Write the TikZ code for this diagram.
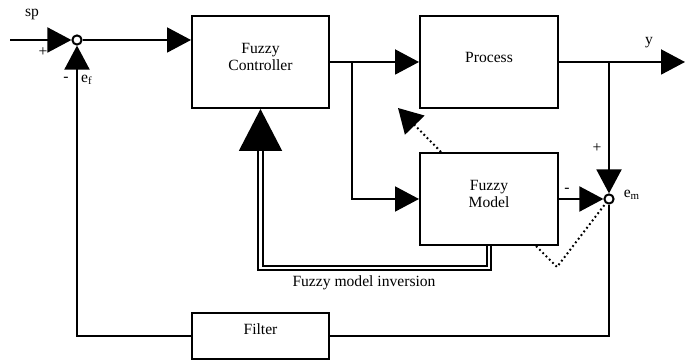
\documentclass[tikz,border=0pt]{standalone}
\usepackage{fontspec}
\setmainfont{Liberation Serif}
\usetikzlibrary{arrows.meta}
\tikzset{
 block/.style={draw,line width=1pt,align=center,font=\fontsize{7.8}{8.5}\selectfont},
 wire/.style={line width=1pt},
 sig/.style={wire,-{Triangle[length=12pt,width=12.5pt]}},
 inv/.style={line width=1pt,double,double distance=1.2pt,-{Triangle[length=21pt,width=21.5pt]}},
 adapt/.style={line width=1pt,dash pattern=on 0.9pt off 1.4pt},
 sumpt/.style={circle,draw,line width=1pt,fill=white,inner sep=0pt,minimum size=4.6pt},
 lbl/.style={font=\fontsize{7.8}{8.5}\selectfont,inner sep=0pt}
}
\begin{document}
\begin{tikzpicture}[x=0.5pt,y=-0.5pt]
\useasboundingbox (0,0) rectangle (685,362);
% blocks
\node[block,minimum width=68.5pt,minimum height=46pt,text depth=5pt] (ctrl) at (260.5,62) {Fuzzy\\Controller};
\node[block,minimum width=69pt,minimum height=46pt,text depth=4.5pt] (proc) at (489,62) {Process};
\node[block,minimum width=69pt,minimum height=46pt,text depth=5.5pt] (model) at (489,199) {Fuzzy\\Model};
\node[block,minimum width=68.5pt,minimum height=23pt,text depth=7pt] (filter) at (260.5,336) {Filter};
% summing points
\node[sumpt] (sum1) at (77,40) {};
\node[sumpt] (sum2) at (609,199) {};
\coordinate (in) at (10,40);
\coordinate (out) at (685,62);
\coordinate (br1) at (352,62);
\coordinate (br2) at (609,62);
% signals
\draw[sig] (in) -- (sum1);
\draw[sig] (sum1) -- (sum1 -| ctrl.west);
\draw[sig] (ctrl.east) -- (proc.west);
\draw[sig] (br1) |- (model.west);
\draw[sig] (proc.east) -- (out);
\draw[sig] (br2) -- (sum2);
\draw[sig] (model.east) -- (sum2);
\draw[wire] (sum2) |- (filter.east);
\draw[sig] (filter.west) -| (sum1);
% model inversion
\draw[inv] (model.south) -- ++(0,22) -| (ctrl.south);
% adaptation
\coordinate (tip) at (398,108);
\draw[adapt,-{Triangle[length=12pt,width=13.5pt]}] ([xshift=11pt]model.north west) -- (tip);
\coordinate (vlow) at (557,267);
\draw[adapt] ([xshift=-11.5pt]model.south east) -- (vlow) -- (sum2);
% labels
\node[lbl] (sp) at (32,14) {sp};
\node[lbl] (p1) at (43,52) {+};
\node[lbl] (m1) at (66,79) {-};
\node[lbl] (ef) at (87,80) {e\textsubscript{f}};
\node[lbl] (p2) at (597,148) {+};
\node[lbl] (m2) at (567,190) {-};
\node[lbl] (em) at (632,195) {e\textsubscript{m}};
\node[lbl] (yout) at (649,43) {y};
\node[lbl] (invlbl) at (364,283) {Fuzzy model inversion};
\end{tikzpicture}
\end{document}
